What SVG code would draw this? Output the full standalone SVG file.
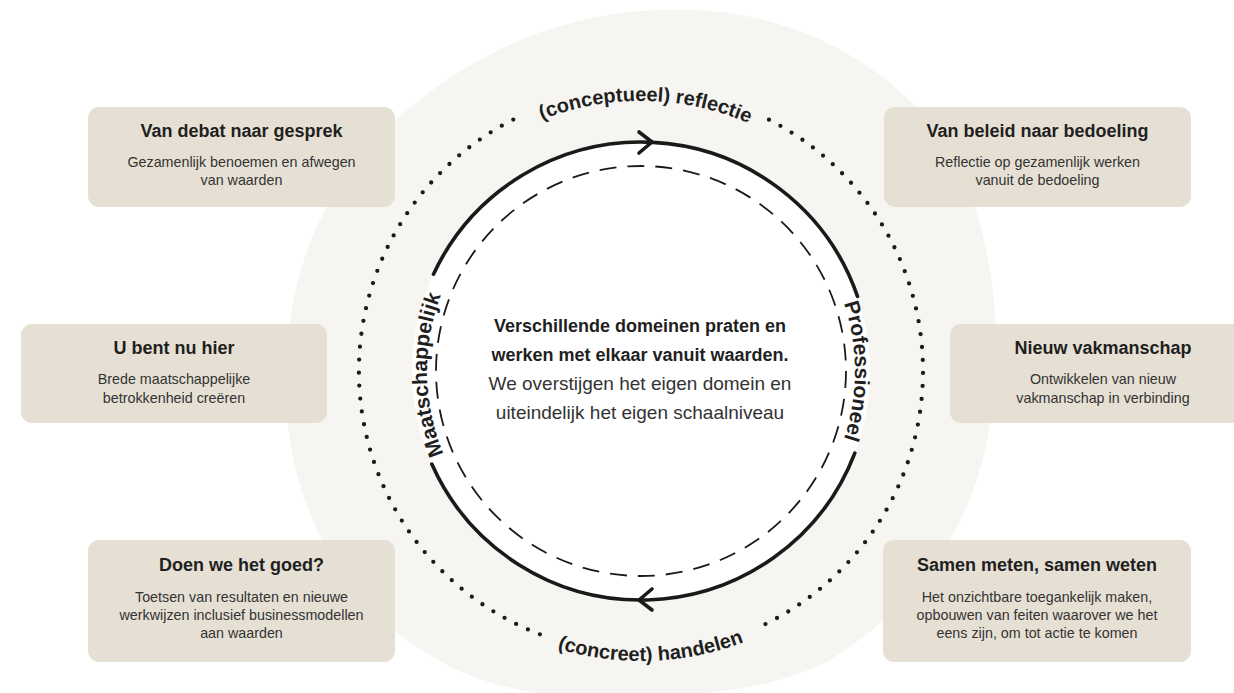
<svg xmlns="http://www.w3.org/2000/svg" width="1234" height="693" viewBox="0 0 1234 693">
<defs>
<style>
.box{fill:#e6e0d4}
.title{font-family:"Liberation Sans",Arial,sans-serif;font-weight:bold;font-size:18px;fill:#1f1f1f;text-anchor:middle}
.desc{font-family:"Liberation Sans",Arial,sans-serif;font-size:14.3px;fill:#333;text-anchor:middle}
.ctb{font-family:"Liberation Sans",Arial,sans-serif;font-weight:bold;font-size:18px;fill:#1f1f1f;text-anchor:middle}
.ctr{font-family:"Liberation Sans",Arial,sans-serif;font-size:19px;fill:#333;text-anchor:middle}
.lbl{font-family:"Liberation Sans",Arial,sans-serif;font-weight:bold;font-size:20px;fill:#1f1f1f}
.side{font-family:"Liberation Sans",Arial,sans-serif;font-weight:bold;font-size:21px;fill:#1f1f1f}
.solid{fill:none;stroke:#1a1a1a;stroke-width:3.6;stroke-linecap:round;stroke-linejoin:round}
.dash{fill:none;stroke:#1a1a1a;stroke-width:1.8;stroke-dasharray:17 11}
.dot{fill:none;stroke:#1a1a1a;stroke-width:4.3;stroke-linecap:round;stroke-dasharray:0 13}
</style>
<path id="pTop" d="M388.9,274.2 A270,270 0 0 1 896.3,283.1"/>
<path id="pBot" d="M395.1,524.7 A290,290 0 0 0 897.0,507.2"/>
<path id="pLeft" d="M537.3,558.2 A214,214 0 0 1 530.8,187.6"/>
<path id="pRight" d="M748,185.7 A214,214 0 0 1 748,556.3"/>
</defs>
<path id="blob" fill="#f6f5f1" d="M690,10 C800,12 900,70 950,150 C1000,240 1005,360 985,450 C965,540 910,610 830,660 C760,700 600,705 520,690 C420,670 340,600 305,500 C275,420 280,300 320,220 C360,140 430,80 520,40 C580,15 640,8 690,10 Z"/>
<circle cx="641" cy="371" r="229" fill="#ffffff"/>
<g id="connectors">
<path class="solid" d="M854.8,453.1 A229,229 0 0 1 431.8,464.1"/>
<path class="solid" d="M433.5,274.2 A229,229 0 0 1 857.5,296.4"/>
<path class="solid" d="M639,132 L652,142 L639,153"/>
<path class="solid" d="M652,589 L639,600 L652,610"/>
<circle class="dash" cx="641" cy="371" r="205"/>
<path class="dot" d="M769.0,119.7 A282,282 0 0 1 755.7,628.6"/>
<path class="dot" d="M539.9,634.3 A282,282 0 0 1 521.8,115.4"/>
</g>
<g id="labels">
<text class="lbl"><textPath href="#pTop" startOffset="50%" text-anchor="middle">(conceptueel) reflectie</textPath></text>
<text class="lbl"><textPath href="#pBot" startOffset="50%" text-anchor="middle">(concreet) handelen</textPath></text>
<text class="side"><textPath href="#pLeft" startOffset="50%" text-anchor="middle">Maatschappelijk</textPath></text>
<text class="side"><textPath href="#pRight" startOffset="50%" text-anchor="middle">Professioneel</textPath></text>
</g>
<g id="center">
<text class="ctb" x="640" y="332">Verschillende domeinen praten en</text>
<text class="ctb" x="640" y="361">werken met elkaar vanuit waarden.</text>
<text class="ctr" x="640" y="390">We overstijgen het eigen domein en</text>
<text class="ctr" x="640" y="419">uiteindelijk het eigen schaalniveau</text>
</g>
<g id="box1">
<rect class="box" x="88" y="107" width="307" height="100" rx="11"/>
<text class="title" x="241.5" y="137">Van debat naar gesprek</text>
<text class="desc" x="241.5" y="167">Gezamenlijk benoemen en afwegen</text>
<text class="desc" x="241.5" y="185">van waarden</text>
</g>
<g id="box2">
<rect class="box" x="884" y="107" width="307" height="100" rx="11"/>
<text class="title" x="1037.5" y="137">Van beleid naar bedoeling</text>
<text class="desc" x="1037.5" y="167">Reflectie op gezamenlijk werken</text>
<text class="desc" x="1037.5" y="185">vanuit de bedoeling</text>
</g>
<g id="box3">
<rect class="box" x="21" y="324" width="306" height="99" rx="11"/>
<text class="title" x="174" y="354">U bent nu hier</text>
<text class="desc" x="174" y="384">Brede maatschappelijke</text>
<text class="desc" x="174" y="403">betrokkenheid creëren</text>
</g>
<g id="box4">
<rect class="box" x="950" y="324" width="306" height="99" rx="11"/>
<text class="title" x="1103" y="354">Nieuw vakmanschap</text>
<text class="desc" x="1103" y="384">Ontwikkelen van nieuw</text>
<text class="desc" x="1103" y="403">vakmanschap in verbinding</text>
</g>
<g id="box5">
<rect class="box" x="88" y="540" width="307" height="122" rx="11"/>
<text class="title" x="241.5" y="571">Doen we het goed?</text>
<text class="desc" x="241.5" y="602">Toetsen van resultaten en nieuwe</text>
<text class="desc" x="241.5" y="620">werkwijzen inclusief businessmodellen</text>
<text class="desc" x="241.5" y="638">aan waarden</text>
</g>
<g id="box6">
<rect class="box" x="883" y="540" width="308" height="122" rx="11"/>
<text class="title" x="1037" y="571">Samen meten, samen weten</text>
<text class="desc" x="1037" y="602">Het onzichtbare toegankelijk maken,</text>
<text class="desc" x="1037" y="620">opbouwen van feiten waarover we het</text>
<text class="desc" x="1037" y="638">eens zijn, om tot actie te komen</text>
</g>
</svg>
